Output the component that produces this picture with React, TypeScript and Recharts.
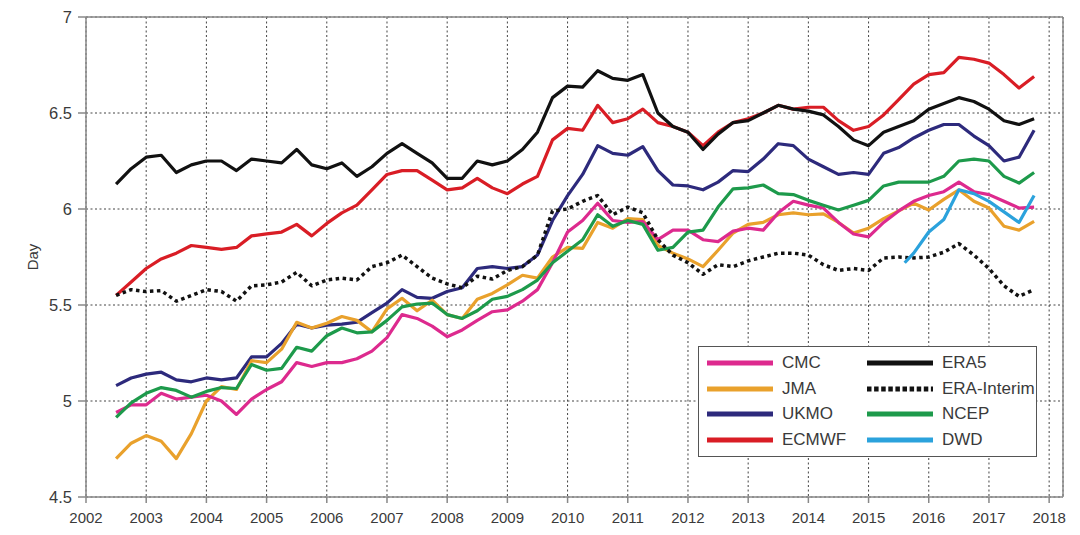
import React from 'react';
import { LineChart, Line, XAxis, YAxis, CartesianGrid, ReferenceLine } from 'recharts';

const years = [
  2002.5, 2002.75,
  2003, 2003.25, 2003.5, 2003.75,
  2004, 2004.25, 2004.5, 2004.75,
  2005, 2005.25, 2005.5, 2005.75,
  2006, 2006.25, 2006.5, 2006.75,
  2007, 2007.25, 2007.5, 2007.75,
  2008, 2008.25, 2008.5, 2008.75,
  2009, 2009.25, 2009.5, 2009.75,
  2010, 2010.25, 2010.5, 2010.75,
  2011, 2011.25, 2011.5, 2011.75,
  2012, 2012.25, 2012.5, 2012.75,
  2013, 2013.25, 2013.5, 2013.75,
  2014, 2014.25, 2014.5, 2014.75,
  2015, 2015.25, 2015.5, 2015.75,
  2016, 2016.25, 2016.5, 2016.75,
  2017, 2017.25, 2017.5, 2017.75,
];

const era5 = [
  6.13, 6.21,
  6.27, 6.28, 6.19, 6.23,
  6.25, 6.25, 6.2, 6.26,
  6.25, 6.24, 6.31, 6.23,
  6.21, 6.24, 6.17, 6.22,
  6.29, 6.34, 6.29, 6.24,
  6.16, 6.16, 6.25, 6.23,
  6.25, 6.31, 6.4, 6.58,
  6.64, 6.635, 6.72, 6.68,
  6.67, 6.7, 6.5, 6.43,
  6.4, 6.31, 6.39, 6.45,
  6.46, 6.5, 6.54, 6.52,
  6.51, 6.49, 6.43, 6.36,
  6.33, 6.4, 6.43, 6.46,
  6.52, 6.55, 6.58, 6.56,
  6.52, 6.46, 6.44, 6.47,
];

const ecmwf = [
  5.55, 5.62,
  5.69, 5.74, 5.77, 5.81,
  5.8, 5.79, 5.8, 5.86,
  5.87, 5.88, 5.92, 5.86,
  5.925, 5.98, 6.02, 6.1,
  6.18, 6.2, 6.2, 6.15,
  6.1, 6.11, 6.16, 6.11,
  6.08, 6.13, 6.17, 6.36,
  6.42, 6.41, 6.54, 6.45,
  6.47, 6.52, 6.45, 6.43,
  6.4, 6.33, 6.4, 6.45,
  6.47, 6.5, 6.54, 6.52,
  6.53, 6.53, 6.46, 6.41,
  6.43, 6.49, 6.57, 6.65,
  6.7, 6.71, 6.79, 6.78,
  6.76, 6.7, 6.63, 6.69,
];

const eraInterim = [
  5.55, 5.58,
  5.57, 5.575, 5.52, 5.55,
  5.58, 5.57, 5.52, 5.6,
  5.605, 5.62, 5.67, 5.6,
  5.63, 5.64, 5.63, 5.7,
  5.72, 5.76, 5.7, 5.64,
  5.61, 5.59, 5.65, 5.635,
  5.68, 5.7, 5.76, 5.99,
  6.0, 6.04, 6.07, 5.97,
  6.01, 5.98, 5.84, 5.76,
  5.72, 5.66, 5.71, 5.7,
  5.73, 5.75, 5.77, 5.77,
  5.76, 5.71, 5.68, 5.69,
  5.68, 5.745, 5.75, 5.745,
  5.75, 5.775, 5.82, 5.76,
  5.69, 5.6, 5.545, 5.58,
];

const ukmo = [
  5.08, 5.12,
  5.14, 5.15, 5.11, 5.1,
  5.12, 5.11, 5.12, 5.23,
  5.23, 5.3, 5.4, 5.38,
  5.395, 5.4, 5.41, 5.46,
  5.51, 5.58, 5.54, 5.535,
  5.57, 5.59, 5.69, 5.7,
  5.69, 5.7, 5.76, 5.94,
  6.07, 6.18, 6.33, 6.29,
  6.28, 6.325, 6.2, 6.125,
  6.12, 6.1, 6.14, 6.2,
  6.195, 6.26, 6.34, 6.33,
  6.26, 6.22, 6.18, 6.19,
  6.18, 6.29, 6.32, 6.37,
  6.41, 6.44, 6.44, 6.38,
  6.33, 6.25, 6.27, 6.41,
];

const ncep = [
  4.915, 4.99,
  5.04, 5.07, 5.055, 5.02,
  5.05, 5.07, 5.065, 5.19,
  5.16, 5.17, 5.28, 5.26,
  5.34, 5.38, 5.355, 5.36,
  5.42, 5.49, 5.505, 5.51,
  5.45, 5.43, 5.47, 5.53,
  5.545, 5.58, 5.63, 5.72,
  5.78, 5.84, 5.97, 5.91,
  5.94, 5.92, 5.785, 5.8,
  5.88, 5.89, 6.01, 6.105,
  6.11, 6.125, 6.08, 6.075,
  6.045, 6.02, 5.995, 6.02,
  6.045, 6.12, 6.14, 6.14,
  6.14, 6.17, 6.25, 6.26,
  6.25, 6.17, 6.135, 6.19,
];

const cmc = [
  4.94, 4.98,
  4.98, 5.04, 5.01, 5.02,
  5.03, 5.0, 4.93, 5.01,
  5.06, 5.1, 5.2, 5.18,
  5.2, 5.2, 5.22, 5.26,
  5.33, 5.45, 5.43, 5.39,
  5.335, 5.37, 5.42, 5.465,
  5.475, 5.52, 5.58, 5.72,
  5.88, 5.94, 6.03, 5.94,
  5.93, 5.935, 5.84, 5.89,
  5.89, 5.84, 5.83, 5.885,
  5.9, 5.89, 5.98, 6.04,
  6.02, 6.005, 5.93, 5.87,
  5.855, 5.93, 5.99, 6.04,
  6.07, 6.09, 6.14, 6.09,
  6.075, 6.04, 6.005, 6.01,
];

const jma = [
  4.7, 4.78,
  4.82, 4.79, 4.7, 4.83,
  5.0, 5.075, 5.06, 5.21,
  5.2, 5.27, 5.41, 5.38,
  5.405, 5.44, 5.42, 5.36,
  5.48, 5.535, 5.47, 5.525,
  5.45, 5.43, 5.53, 5.56,
  5.605, 5.655, 5.64, 5.75,
  5.8, 5.795, 5.93, 5.9,
  5.95, 5.945, 5.81, 5.77,
  5.74, 5.7, 5.785, 5.875,
  5.92, 5.93, 5.97, 5.98,
  5.97, 5.975, 5.93, 5.875,
  5.9, 5.95, 5.99, 6.03,
  5.995, 6.05, 6.1, 6.04,
  6.005, 5.91, 5.89, 5.935,
];

const dwdYears = [2015.6, 2015.75, 2016, 2016.25, 2016.5, 2016.75, 2017, 2017.25, 2017.5, 2017.75];
const dwd = [5.72, 5.77, 5.88, 5.945, 6.1, 6.08, 6.04, 5.985, 5.93, 6.07];

const xTicks = [2002, 2003, 2004, 2005, 2006, 2007, 2008, 2009, 2010, 2011, 2012, 2013, 2014, 2015, 2016, 2017, 2018];
const yTicks = [4.5, 5, 5.5, 6, 6.5, 7];

const data = years.map((t, i) => ({
  t,
  CMC: cmc[i],
  JMA: jma[i],
  UKMO: ukmo[i],
  ECMWF: ecmwf[i],
  ERA5: era5[i],
  'ERA-Interim': eraInterim[i],
  NCEP: ncep[i],
}));
const dwdData = dwdYears.map((t, i) => ({ t, DWD: dwd[i] }));

type S = { name: string; color: string; dash?: string };
const seriesStyle: Record<string, S> = {
  CMC: { name: 'CMC', color: '#dd2a8e' },
  JMA: { name: 'JMA', color: '#e9a12c' },
  UKMO: { name: 'UKMO', color: '#2d2a7c' },
  ECMWF: { name: 'ECMWF', color: '#d91d25' },
  ERA5: { name: 'ERA5', color: '#111111' },
  'ERA-Interim': { name: 'ERA-Interim', color: '#111111', dash: '3.5 3.5' },
  NCEP: { name: 'NCEP', color: '#1d9a4b' },
  DWD: { name: 'DWD', color: '#2ba2dc' },
};
const drawOrder = ['UKMO', 'JMA', 'CMC', 'NCEP', 'ECMWF', 'ERA5', 'ERA-Interim'];
const legendLeft = ['CMC', 'JMA', 'UKMO', 'ECMWF'];
const legendRight = ['ERA5', 'ERA-Interim', 'NCEP', 'DWD'];

const FONT = '"Liberation Sans", Arial, Helvetica, sans-serif';

function DayLabel(props: any) {
  const vb = props.viewBox || { x: 0, y: 17, width: 86, height: 480 };
  const x = vb.x + 32;
  const y = vb.y + vb.height / 2;
  return (
    <text x={x} y={y} transform={`rotate(-90 ${x} ${y})`} textAnchor="middle" dominantBaseline="central"
      fontSize={15} fill="#3a3a3a" fontFamily={FONT}>Day</text>
  );
}

function LegendItem({ k }: { k: string }) {
  const s = seriesStyle[k];
  return (
    <div style={{ display: 'flex', alignItems: 'center', height: 25.7 }}>
      <svg width={66} height={8} style={{ marginRight: 9, flex: 'none' }}>
        <line x1={0} y1={4} x2={66} y2={4} stroke={s.color} strokeWidth={5} strokeDasharray={s.dash ? '4.5 2.6' : undefined} />
      </svg>
      <span style={{ fontSize: 17, color: '#3a3a3a', fontFamily: FONT, whiteSpace: 'nowrap' }}>{s.name}</span>
    </div>
  );
}

function LegendBox() {
  return (
    <div style={{
      position: 'absolute', left: 698, top: 346, width: 339, height: 111, boxSizing: 'border-box',
      border: '1.5px solid #555', background: '#fff',
    }}>
      <div style={{ position: 'absolute', left: 8, top: 3 }}>
        {legendLeft.map((k) => <LegendItem key={k} k={k} />)}
      </div>
      <div style={{ position: 'absolute', left: 168, top: 3 }}>
        {legendRight.map((k) => <LegendItem key={k} k={k} />)}
      </div>
    </div>
  );
}

export default function App() {
  return (
    <div style={{ position: 'absolute', left: 0, top: 0, width: 1080, height: 535, background: '#fff' }}>
      <LineChart width={1080} height={535} data={data} margin={{ top: 17, right: 17, bottom: 0, left: 0 }}>
        <CartesianGrid stroke="#444" strokeDasharray="2 2.5" strokeWidth={1} />
        <XAxis
          dataKey="t"
          type="number"
          domain={[2002, 2018.23]}
          ticks={xTicks}
          allowDataOverflow
          height={38}
          tickSize={6}
          tickMargin={9}
          axisLine={{ stroke: '#888', strokeWidth: 1.5 }}
          tickLine={{ stroke: '#888', strokeWidth: 1.5 }}
          tick={{ fontSize: 15, fill: '#3a3a3a', fontFamily: FONT }}
          interval={0}
        />
        <YAxis
          type="number"
          domain={[4.5, 7]}
          ticks={yTicks}
          width={86}
          tickSize={8}
          tickMargin={6}
          axisLine={{ stroke: '#888', strokeWidth: 1.5 }}
          tickLine={{ stroke: '#888', strokeWidth: 1.5 }}
          tick={{ fontSize: 16.5, fill: '#3a3a3a', fontFamily: FONT }}
          interval={0}
          label={<DayLabel />}
        />
        <ReferenceLine y={7} stroke="#888" strokeWidth={1.5} />
        <ReferenceLine x={2018.23} stroke="#888" strokeWidth={1.5} />
        {drawOrder.map((k) => (
          <Line
            key={k}
            type="linear"
            dataKey={k}
            name={k}
            stroke={seriesStyle[k].color}
            strokeWidth={seriesStyle[k].dash ? 3.5 : 3.2}
            strokeDasharray={seriesStyle[k].dash}
            strokeLinejoin="round"
            dot={false}
            isAnimationActive={false}
          />
        ))}
        <Line
          type="linear"
          data={dwdData}
          dataKey="DWD"
          name="DWD"
          stroke={seriesStyle.DWD.color}
          strokeWidth={3.2}
          strokeLinejoin="round"
          dot={false}
          isAnimationActive={false}
        />
      </LineChart>
      <LegendBox />
    </div>
  );
}
